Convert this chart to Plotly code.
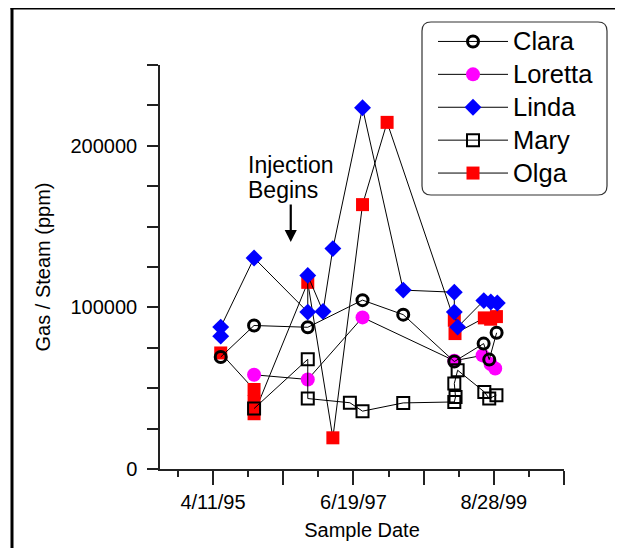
import plotly.graph_objects as go
from datetime import date, timedelta

# ---------------- data ----------------
clara_dates = ["1995-05-25", "1995-12-01", "1996-10-02", "1997-08-10", "1998-03-30",
               "1999-01-15", "1999-07-01", "1999-08-02", "1999-09-13"]
clara_vals = [69300, 88800, 87700, 104500, 95500, 66500, 77600, 67700, 84300]

loretta_dates = ["1995-12-01", "1996-10-02", "1997-08-10", "1999-01-15", "1999-06-25",
                 "1999-08-10", "1999-09-05"]
loretta_vals = [58300, 55400, 93800, 67000, 70300, 65000, 62200]

linda_dates = ["1995-05-25", "1995-05-25", "1995-12-01", "1996-10-02", "1996-10-02",
               "1996-12-28", "1997-02-22", "1997-08-10", "1998-03-30", "1999-01-15",
               "1999-01-15", "1999-02-03", "1999-07-02", "1999-08-11", "1999-09-17"]
linda_vals = [82200, 87800, 130600, 97100, 119800, 97500, 136400, 223500, 110700,
              109400, 97100, 87800, 104200, 103300, 102700]

mary_dates = ["1995-12-01", "1996-10-02", "1996-10-02", "1997-05-30", "1997-08-10",
              "1998-03-30", "1999-01-15", "1999-01-22", "1999-01-15", "1999-02-03",
              "1999-07-05", "1999-08-02", "1999-09-12"]
mary_vals = [37400, 67900, 43600, 41000, 35800, 40900, 41500, 44600, 52900, 61100,
             47700, 43600, 45700]

olga_dates = ["1995-05-25", "1995-12-01", "1995-12-01", "1995-12-01", "1996-10-02",
              "1997-02-22", "1997-08-10", "1997-12-28", "1999-01-15", "1999-01-19",
              "1999-07-05", "1999-08-10", "1999-09-12"]
olga_vals = [71800, 49200, 41600, 34200, 115500, 19300, 163600, 214500, 92000, 83800,
             93500, 92700, 94300]

x_major_ticks = ["1995-04-11", "1996-05-15", "1997-06-19", "1998-07-24", "1999-08-28", "2000-10-01"]
x_major_labels = ["4/11/95", "", "6/19/97", "", "8/28/99", ""]
y_tick_vals = [0, 25000, 50000, 75000, 100000, 125000, 150000, 175000, 200000, 225000, 250000]
y_tick_labels = ["0", "", "", "", "100000", "", "", "", "200000", "", ""]

injection_date = "1996-06-27"

# ---------------- layout helpers ----------------
# The page body has an 8px margin, so the figure is 8px smaller than the window
OFF = 8
W, H = 623 - OFF, 548 - OFF
# plot-area edges in window pixels
L, R, T, B = 160, 564, 65, 469
FONT = "Liberation Sans, Arial, sans-serif"


def pxx(x):
    return (x - L) / (R - L)


def pxy(y):
    return (B - y) / (B - T)


minor_ticks = [(date.fromisoformat(d) - timedelta(days=200)).isoformat() for d in x_major_ticks]

fig = go.Figure()

line_style = dict(color="black", width=1)


def lname(s):
    return f"<span style='font-size:25.5px'>{s}</span>"


fig.add_trace(go.Scatter(x=olga_dates, y=olga_vals, name=lname("Olga"), mode="lines+markers",
                         line=line_style, legendrank=5,
                         marker=dict(symbol="square", size=13, color="#FF0000")))
fig.add_trace(go.Scatter(x=loretta_dates, y=loretta_vals, name=lname("Loretta"), mode="lines+markers",
                         line=line_style, legendrank=2,
                         marker=dict(symbol="circle", size=14, color="#FF00FF")))
fig.add_trace(go.Scatter(x=linda_dates, y=linda_vals, name=lname("Linda"), mode="lines+markers",
                         line=line_style, legendrank=3,
                         marker=dict(symbol="diamond", size=13, color="#0000FF")))
fig.add_trace(go.Scatter(x=mary_dates, y=mary_vals, name=lname("Mary"), mode="lines+markers",
                         line=line_style, legendrank=4,
                         marker=dict(symbol="square-open", size=12, color="black",
                                     line=dict(width=2, color="black"))))
fig.add_trace(go.Scatter(x=clara_dates, y=clara_vals, name=lname("Clara"), mode="lines+markers",
                         line=line_style, legendrank=1,
                         marker=dict(symbol="circle-open", size=11, color="black",
                                     line=dict(width=3, color="black"))))


def rounded_rect(x0, y0, x1, y1, r):
    def P(x, y):
        return f"{pxx(x):.5f},{pxy(y):.5f}"
    return (f"M {P(x0 + r, y0)} L {P(x1 - r, y0)} Q {P(x1, y0)} {P(x1, y0 + r)} "
            f"L {P(x1, y1 - r)} Q {P(x1, y1)} {P(x1 - r, y1)} L {P(x0 + r, y1)} "
            f"Q {P(x0, y1)} {P(x0, y1 - r)} L {P(x0, y0 + r)} Q {P(x0, y0)} {P(x0 + r, y0)} Z")


shapes = [
    dict(type="path", xref="paper", yref="paper", path=rounded_rect(422, 22, 607, 195, 9),
         line=dict(color="#333333", width=1.2)),
    dict(type="line", xref="paper", yref="paper", x0=pxx(12), x1=pxx(12), y0=pxy(6.5), y1=pxy(560),
         line=dict(color="black", width=3)),
    dict(type="line", xref="paper", yref="paper", x0=pxx(10.5), x1=pxx(640), y0=pxy(8), y1=pxy(8),
         line=dict(color="black", width=3)),
]

annotations = [
    dict(x=pxx(246), y=pxy(165), xref="paper", yref="paper", text="Injection", showarrow=False,
         xanchor="left", yanchor="middle", font=dict(family=FONT, size=23, color="black")),
    dict(x=pxx(246), y=pxy(190), xref="paper", yref="paper", text="Begins", showarrow=False,
         xanchor="left", yanchor="middle", font=dict(family=FONT, size=23, color="black")),
    dict(x=injection_date, y=pxy(242), xref="x", yref="paper", text="", showarrow=True,
         ax=0, ay=-39, arrowhead=2, arrowsize=1.1, arrowwidth=2.2, arrowcolor="black",
         standoff=0, startstandoff=0, font=dict(size=1)),
]

fig.update_layout(
    width=W, height=H,
    margin=dict(l=L - OFF, r=W - (R - OFF), t=T - OFF, b=H - (B - OFF), pad=0, autoexpand=False),
    paper_bgcolor="white", plot_bgcolor="white",
    font=dict(family=FONT, size=20, color="black"),
    showlegend=True,
    legend=dict(x=pxx(433), y=pxy(20), xanchor="left", yanchor="top",
                bgcolor="rgba(0,0,0,0)", borderwidth=0,
                font=dict(family=FONT, size=23, color="black"),
                itemwidth=70, tracegroupgap=0),
    shapes=shapes,
    annotations=annotations,
    xaxis=dict(
        type="date", range=["1994-06-13", "2000-10-01"], automargin=False,
        showgrid=False, zeroline=False,
        showline=True, linecolor="#222222", linewidth=1.5,
        ticks="outside", ticklen=14, tickwidth=1.5, tickcolor="#222222",
        tickmode="array", tickvals=x_major_ticks, ticktext=x_major_labels,
        tickfont=dict(family=FONT, size=20, color="black"),
        minor=dict(tickmode="array", tickvals=minor_ticks, ticks="outside",
                   ticklen=6, tickwidth=1.5, tickcolor="#222222", showgrid=False),
        title=dict(text="Sample Date", font=dict(family=FONT, size=20, color="black"), standoff=11),
    ),
    yaxis=dict(
        range=[0, 250000], automargin=False,
        showgrid=False, zeroline=False,
        showline=True, linecolor="#222222", linewidth=1.5,
        ticks="outside", ticklen=11, tickwidth=1.5, tickcolor="#222222",
        tickmode="array", tickvals=y_tick_vals, ticktext=y_tick_labels,
        tickfont=dict(family=FONT, size=20, color="black"),
        ticklabelstandoff=6,
        title=dict(text="Gas / Steam (ppm)", font=dict(family=FONT, size=20, color="black"), standoff=15),
    ),
)

fig.write_html("out.html")
